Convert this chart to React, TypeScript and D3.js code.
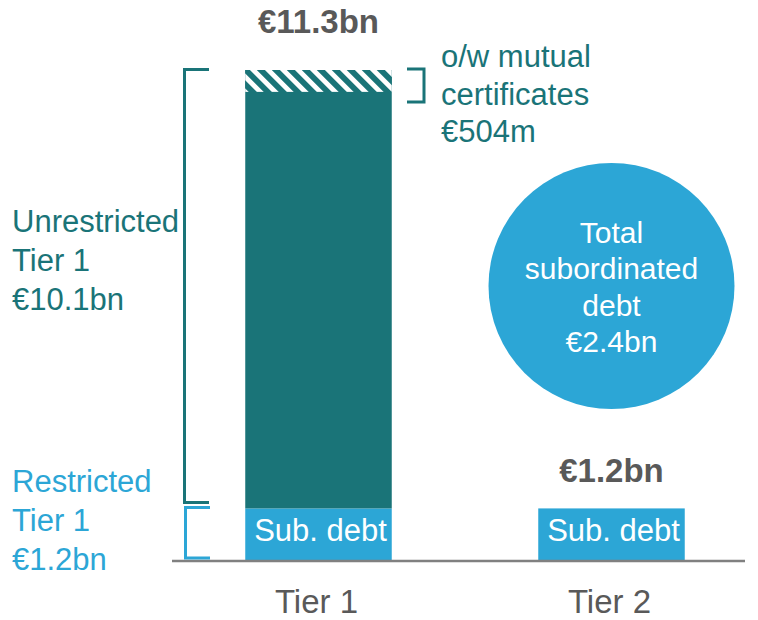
import React, { useEffect, useRef } from 'react';
import * as d3 from 'd3';

// values in € bn
const tiers = ['Tier 1', 'Tier 2'];
const subDebt = [1.2, 1.2];
const unrestrictedTier1 = [10.1, 0]; // includes mutual certificates
const mutualCertificates = [0.504, 0];
const totalLabels = ['€11.3bn', '€1.2bn'];
const unrestrictedLabel = ['Unrestricted', 'Tier 1', '€10.1bn'];
const restrictedLabel = ['Restricted', 'Tier 1', '€1.2bn'];
const mutualLabel = ['o/w mutual', 'certificates', '€504m'];
const circleLabel = ['Total', 'subordinated', 'debt', '€2.4bn'];

const TEAL = '#1a7478';
const BLUE = '#2ca6d6';
const GREY = '#595959';
const FONT = '"Liberation Sans", Arial, sans-serif';

const App = () => {
  const svgRef = useRef<SVGSVGElement>(null);
  const width = 758;
  const height = 620;

  useEffect(() => {
    const svg = d3.select(svgRef.current);
    svg.selectAll('*').remove();

    const x = d3.scaleBand<string>()
      .domain(tiers)
      .range([172, 758])
      .paddingInner(0.5)
      .paddingOuter(0.25);

    const y = d3.scaleLinear()
      .domain([0, 11.3])
      .range([560.5, 70]);

    // hatch pattern for mutual certificates
    const defs = svg.append('defs');
    const pat = defs.append('pattern')
      .attr('id', 'hatch')
      .attr('patternUnits', 'userSpaceOnUse')
      .attr('width', 10.6)
      .attr('height', 10.6)
      .attr('patternTransform', 'rotate(-45)');
    pat.append('rect').attr('width', 10.6).attr('height', 10.6).attr('fill', TEAL);
    pat.append('rect').attr('width', 4.8).attr('height', 10.6).attr('fill', '#fff');

    const idx = d3.range(tiers.length);

    // sub debt segments
    svg.selectAll('.sub')
      .data(idx)
      .enter().append('rect')
      .attr('x', i => x(tiers[i])!)
      .attr('width', x.bandwidth())
      .attr('y', i => y(subDebt[i]))
      .attr('height', i => y(0) - y(subDebt[i]))
      .attr('fill', BLUE);

    // unrestricted tier 1 segments
    svg.selectAll('.unr')
      .data(idx.filter(i => unrestrictedTier1[i] > 0))
      .enter().append('rect')
      .attr('x', i => x(tiers[i])!)
      .attr('width', x.bandwidth())
      .attr('y', i => y(subDebt[i] + unrestrictedTier1[i]))
      .attr('height', i => y(subDebt[i]) - y(subDebt[i] + unrestrictedTier1[i]))
      .attr('fill', TEAL);

    // mutual certificates (hatched top part)
    svg.selectAll('.mut')
      .data(idx.filter(i => mutualCertificates[i] > 0))
      .enter().append('rect')
      .attr('x', i => x(tiers[i])!)
      .attr('width', x.bandwidth())
      .attr('y', i => y(subDebt[i] + unrestrictedTier1[i]))
      .attr('height', i => y(subDebt[i] + unrestrictedTier1[i] - mutualCertificates[i]) - y(subDebt[i] + unrestrictedTier1[i]))
      .attr('fill', 'url(#hatch)');

    // "Sub. debt" labels
    svg.selectAll('.subLbl')
      .data(idx)
      .enter().append('text')
      .attr('x', i => x(tiers[i])! + x.bandwidth() / 2 + 2)
      .attr('y', y(0) - 19.5)
      .attr('text-anchor', 'middle')
      .style('font-family', FONT)
      .style('font-size', '31px')
      .attr('fill', '#fff')
      .text('Sub. debt');

    // totals above bars
    const totalOffset = [37, 26];
    svg.selectAll('.tot')
      .data(idx)
      .enter().append('text')
      .attr('x', i => x(tiers[i])! + x.bandwidth() / 2)
      .attr('y', i => y(subDebt[i] + unrestrictedTier1[i]) - totalOffset[i])
      .attr('text-anchor', 'middle')
      .style('font-family', FONT)
      .style('font-size', '33px')
      .style('font-weight', 'bold')
      .attr('fill', GREY)
      .text(i => totalLabels[i]);

    // axis
    svg.append('line')
      .attr('x1', 172).attr('x2', 745)
      .attr('y1', y(0) + 0.5).attr('y2', y(0) + 0.5)
      .attr('stroke', '#808080')
      .attr('stroke-width', 2.5);

    svg.selectAll('.tick')
      .data(tiers)
      .enter().append('text')
      .attr('x', d => x(d)! + x.bandwidth() / 2 - 2)
      .attr('y', 613)
      .attr('text-anchor', 'middle')
      .style('font-family', FONT)
      .style('font-size', '33px')
      .attr('fill', GREY)
      .text(d => d);

    // brackets
    const bracket = (x0: number, x1: number, y0: number, y1: number, color: string) => {
      svg.append('path')
        .attr('d', `M${x1},${y0}H${x0}V${y1}H${x1}`)
        .attr('fill', 'none')
        .attr('stroke', color)
        .attr('stroke-width', 3);
    };
    const top1 = y(subDebt[0] + unrestrictedTier1[0]);
    bracket(184.5, 209, top1 - 0.5, y(subDebt[0]) - 6, TEAL);
    bracket(185.5, 210, y(subDebt[0]) - 1, y(0) - 2.5, BLUE);
    bracket(424, 407, top1 - 1, y(subDebt[0] + unrestrictedTier1[0] - mutualCertificates[0]) + 10, TEAL);

    // multi-line labels
    const block = (lines: string[], x0: number, y0: number, lh: number, size: number, color: string, anchor: string) => {
      const t = svg.append('text')
        .attr('text-anchor', anchor)
        .style('font-family', FONT)
        .style('font-size', `${size}px`)
        .attr('fill', color);
      lines.forEach((l, i) => {
        t.append('tspan').attr('x', x0).attr('y', y0 + i * lh).text(l);
      });
    };
    block(unrestrictedLabel, 12, 232, 39, 31, TEAL, 'start');
    block(restrictedLabel, 12, 492, 39, 31, BLUE, 'start');
    block(mutualLabel, 441, 67, 37.5, 31, TEAL, 'start');

    // total subordinated debt bubble
    const cx = x(tiers[1])! + x.bandwidth() / 2;
    svg.append('circle')
      .attr('cx', cx)
      .attr('cy', 286)
      .attr('r', 123)
      .attr('fill', BLUE);
    block(circleLabel, cx, 243, 36.3, 30, '#fff', 'middle');
  }, []);

  return (
    <svg
      ref={svgRef}
      width={width}
      height={height}
      style={{ position: 'absolute', left: 0, top: 0, background: '#fff' }}
    />
  );
};

export default App;
